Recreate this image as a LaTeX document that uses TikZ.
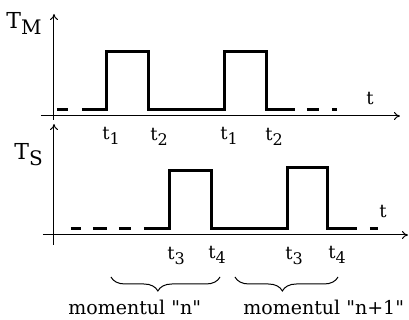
\documentclass[tikz,border=0pt]{standalone}
\usepackage{fontspec}
\setmainfont{DejaVu Serif}
\usetikzlibrary{arrows.meta,decorations.pathreplacing}
\tikzset{
  axis/.style={line width=0.5pt, -{To[length=3pt,width=4pt]}},
  signal/.style={line width=1.5pt, line join=miter},
  lbl/.style={font=\fontsize{11}{12}\selectfont, inner sep=0pt, anchor=base west},
  sublbl/.style={font=\fontsize{9}{10}\selectfont, inner sep=0pt, anchor=base west},
  bracelbl/.style={font=\fontsize{9.5}{10}\selectfont, inner sep=0pt, anchor=base west},
  momentbrace/.style={line width=0.5pt, decorate, decoration={brace, mirror, amplitude=7pt}}
}
\newcommand{\tsub}[1]{t\raisebox{-0.5ex}{\fontsize{8}{9}\selectfont #1}}
\newcommand{\Tsub}[1]{T\raisebox{-0.5ex}{\fontsize{10}{11}\selectfont #1}}
\begin{document}
\begin{tikzpicture}[x=0.5pt, y=-0.5pt]
  \useasboundingbox (0,0) rectangle (409,320);
  % axes
  \draw[axis] (54,120) -- (54,14);
  \draw[axis] (41,116) -- (400,116);
  \draw[axis] (54,245) -- (54,124);
  \draw[axis] (43,235) -- (408,235);
  \node[lbl] (tm) at (6,29) {\Tsub{M}};
  \node[lbl] (ts) at (14,160) {\Tsub{S}};
  \node[sublbl] (ttop) at (366,105) {t};
  \node[sublbl] (tbot) at (379,218) {t};
  % master signal
  \draw[signal] (57,110) -- (68,110);
  \draw[signal] (82,110) -- (107,110) -- (107,52) -- (149,52) -- (149,110)
    -- (225,110) -- (225,52) -- (267,52) -- (267,110) -- (295,110);
  \draw[signal] (307,110) -- (319,110);
  \draw[signal] (332,110) -- (337,110);
  % slave signal
  \foreach \xa/\xb in {71/81, 93/107, 119/131}
    \draw[signal] (\xa,229) -- (\xb,229);
  \draw[signal] (144,229) -- (170,229) -- (170,171) -- (212,171) -- (212,229)
    -- (288,229) -- (288,168) -- (328,168) -- (328,229) -- (357,229);
  \draw[signal] (370,229) -- (378,229);
  % time marks
  \node[sublbl] (t1a) at (102,140) {\tsub{1}};
  \node[sublbl] (t2a) at (150,141) {\tsub{2}};
  \node[sublbl] (t1b) at (220,140) {\tsub{1}};
  \node[sublbl] (t2b) at (265,141) {\tsub{2}};
  \node[sublbl] (t3a) at (167,260) {\tsub{3}};
  \node[sublbl] (t4a) at (208,259) {\tsub{4}};
  \node[sublbl] (t3b) at (285,260) {\tsub{3}};
  \node[sublbl] (t4b) at (328,259) {\tsub{4}};
  % moments
  \coordinate (na) at (111,277);
  \coordinate (nb) at (220,277);
  \coordinate (ma) at (235,277);
  \coordinate (mb) at (338,277);
  \draw[momentbrace, decoration={aspect=0.43}] (na) -- (nb);
  \draw[momentbrace, decoration={aspect=0.46}] (ma) -- (mb);
  \node[bracelbl] (mn) at (68,315) {momentul \textquotedbl n\textquotedbl};
  \node[bracelbl] (mn1) at (243,315) {momentul \textquotedbl n+1\textquotedbl};
\end{tikzpicture}
\end{document}
